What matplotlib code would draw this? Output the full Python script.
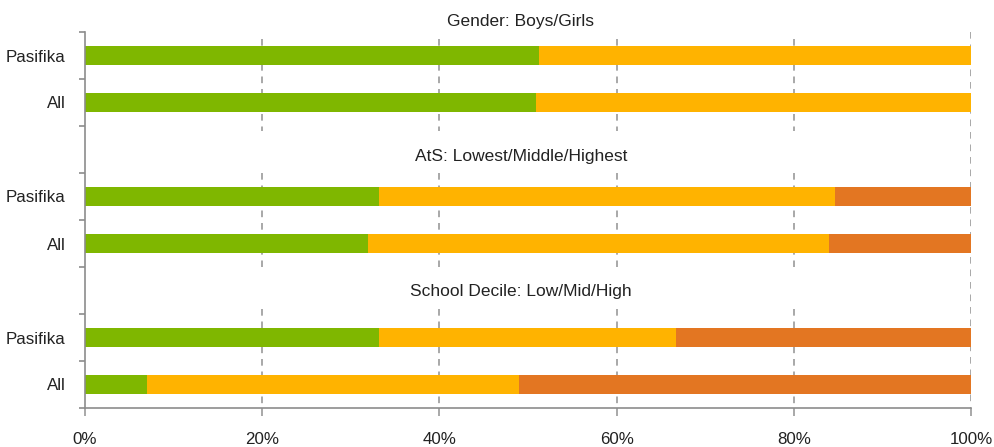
import matplotlib
matplotlib.use("Agg")
import matplotlib.pyplot as plt
import numpy as np

plt.rcParams['font.family'] = ['Liberation Sans', 'DejaVu Sans']

# ---- data ----
group_titles = ["Gender: Boys/Girls", "AtS: Lowest/Middle/Highest", "School Decile: Low/Mid/High"]
row_labels = ["Pasifika", "All"]
# each group: rows (Pasifika, All) x segments
seg1 = [[51.2, 50.9], [33.2, 31.9], [33.2, 7.0]]   # Boys / Lowest / Low
seg2 = [[48.8, 49.1], [51.4, 52.1], [33.5, 42.0]]  # Girls / Middle / Mid
seg3 = [[0.0, 0.0], [15.4, 16.0], [33.3, 51.0]]    # - / Highest / High
xticks = [0, 20, 40, 60, 80, 100]
xtick_labels = ["0%", "20%", "40%", "60%", "80%", "100%"]

colors = ["#7FB700", "#FFB300", "#E37622"]
grid_c = "#9A9A9A"
spine_c = "#8C8C8C"

fig = plt.figure(figsize=(9.94, 4.47), dpi=100)
ax = fig.add_axes([85/994, 1-408/447, (971-85)/994, (408-32)/447])

ypos = []
for g in range(3):
    for r in range(2):
        ypos.append(g*3 + r)
ypos = np.array(ypos)

s1 = np.array([v for g in seg1 for v in g])
s2 = np.array([v for g in seg2 for v in g])
s3 = np.array([v for g in seg3 for v in g])

# gridlines (segmented per group)
grid_ranges = [(-0.35, 1.6), (2.5, 4.5), (5.4, 7.5)]
for xv in xticks[1:-1]:
    for lo, hi in grid_ranges:
        ax.vlines(xv, lo, hi, colors=grid_c, linestyles=(0, (4, 3.5)), linewidth=1.2, zorder=1)
ax.vlines(100, -0.5, 7.5, colors=grid_c, linestyles=(0, (4, 3.5)), linewidth=1.2, zorder=1)

h = 0.4
ax.barh(ypos, s1, height=h, color=colors[0], zorder=2)
ax.barh(ypos, s2, left=s1, height=h, color=colors[1], zorder=2)
ax.barh(ypos, s3, left=s1+s2, height=h, color=colors[2], zorder=2)

# group titles
title_y = [-0.73, 2.15, 5.03]
for t, yv in zip(group_titles, title_y):
    ax.text(49.2, yv, t, ha="center", va="center", fontsize=12.5, color="#222222", clip_on=False)

ax.set_xlim(0, 100)
ax.set_ylim(7.5, -0.5)

ax.set_yticks(ypos)
ax.set_yticklabels(row_labels*3, fontsize=12.2, color="#222222")
ax.tick_params(axis="y", which="major", length=0, pad=14)
ax.set_yticks(np.arange(-0.5, 8.0, 1.0), minor=True)
ax.tick_params(axis="y", which="minor", length=4, width=1.2, color=spine_c, direction="out")

ax.set_xticks(xticks)
ax.set_xticklabels(xtick_labels, fontsize=12.2, color="#222222")
ax.tick_params(axis="x", which="major", length=6, width=1.2, color=grid_c, direction="out", pad=11)

for s in ["top", "right"]:
    ax.spines[s].set_visible(False)
for s in ["left", "bottom"]:
    ax.spines[s].set_color(spine_c)
    ax.spines[s].set_linewidth(1.2)

fig.savefig("out.png", dpi=100)
